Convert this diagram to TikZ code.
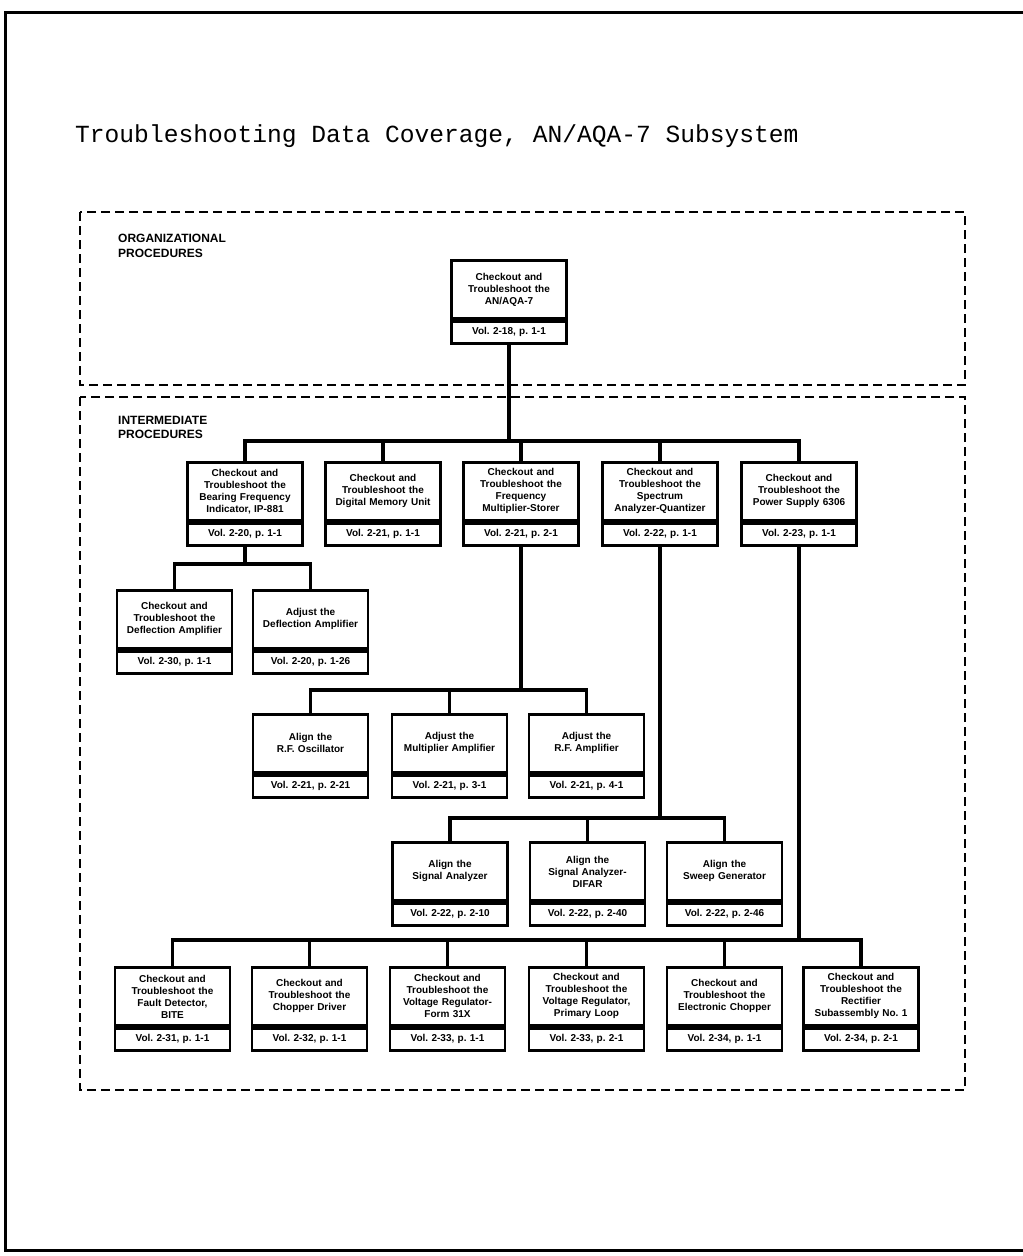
\documentclass[tikz,border=0pt]{standalone}
\usepackage{fontspec}
\setsansfont{Liberation Sans}
\setmonofont{Liberation Mono}
\usetikzlibrary{positioning}
\newcommand{\BoxW}{115pt}
\tikzset{Proc/.style={
    draw=black, line width=2.8pt,
    inner sep=0pt,
    text width=110pt,
    minimum width=\BoxW,
    minimum height=58pt,
    align=center,
    font=\fontsize{10}{12}\selectfont\sffamily\bfseries\frenchspacing,
    },
  Vol/.style={Proc, minimum height=22pt},
}

\begin{document}
\begin{tikzpicture}[x=1pt, y=-1pt,
    Link/.style={line width=3.2pt},
    Frame/.style={line width=1.8pt, dash pattern=on 9pt off 5pt},
    Label/.style={anchor=north west, inner sep=0pt, align=left,
      font=\fontsize{12}{14.5}\selectfont\sffamily\bfseries},
]
\useasboundingbox (0,0) rectangle (1023,1256);
% page frame
\draw[line width=3pt] (1023,12) -- (5,12) -- (5,1250) -- (1023,1250);
\node[anchor=base west, inner sep=0pt, font=\fontsize{24.6}{28}\selectfont\ttfamily] (title) at (75,142)
  {Troubleshooting Data Coverage, AN/AQA-7 Subsystem};

% dashed areas
\draw[Frame] (80,212) rectangle (965,385);
\draw[Frame] (80,397) rectangle (965,1090);
\node[Label] (org) at (118,234) {ORGANIZATIONAL\\PROCEDURES};
\node[Label] (int) at (118,416) {INTERMEDIATE\\PROCEDURES};

% organizational
\node[Proc, anchor=north] (top) at (509,259) {Checkout and\\Troubleshoot the\\AN/AQA-7};
\node[Vol, below=0pt of top] (top-v) {Vol. 2-18, p. 1-1};

% row 1
\pgfmathsetmacro{\row}{461}
\node[Proc, anchor=north] (a) at (245,\row) {Checkout and\\Troubleshoot the\\Bearing Frequency\\Indicator, IP-881};
\node[Vol, below=0pt of a] (a-v) {Vol. 2-20, p. 1-1};
\node[Proc, anchor=north] (b) at (383,\row) {Checkout and\\Troubleshoot the\\Digital Memory Unit};
\node[Vol, below=0pt of b] (b-v) {Vol. 2-21, p. 1-1};
\node[Proc, anchor=north] (c) at (521,\row) {Checkout and\\Troubleshoot the\\Frequency\\Multiplier-Storer};
\node[Vol, below=0pt of c] (c-v) {Vol. 2-21, p. 2-1};
\node[Proc, anchor=north] (d) at (660,\row) {Checkout and\\Troubleshoot the\\Spectrum\\Analyzer-Quantizer};
\node[Vol, below=0pt of d] (d-v) {Vol. 2-22, p. 1-1};
\node[Proc, anchor=north] (e) at (799,\row) {Checkout and\\Troubleshoot the\\Power Supply 6306};
\node[Vol, below=0pt of e] (e-v) {Vol. 2-23, p. 1-1};

% row 2
\pgfmathsetmacro{\row}{589}
\node[Proc, anchor=north] (f) at (174.5,\row) {Checkout and\\Troubleshoot the\\Deflection Amplifier};
\node[Vol, below=0pt of f] (f-v) {Vol. 2-30, p. 1-1};
\node[Proc, anchor=north] (g) at (310.5,\row) {Adjust the\\Deflection Amplifier};
\node[Vol, below=0pt of g] (g-v) {Vol. 2-20, p. 1-26};

% row 3
\pgfmathsetmacro{\row}{713}
\node[Proc, anchor=north] (h) at (310.5,\row) {Align the\\R.F. Oscillator};
\node[Vol, below=0pt of h] (h-v) {Vol. 2-21, p. 2-21};
\node[Proc, anchor=north] (i) at (449.5,\row) {Adjust the\\Multiplier Amplifier};
\node[Vol, below=0pt of i] (i-v) {Vol. 2-21, p. 3-1};
\node[Proc, anchor=north] (j) at (586.5,\row) {Adjust the\\R.F. Amplifier};
\node[Vol, below=0pt of j] (j-v) {Vol. 2-21, p. 4-1};

% row 4
\pgfmathsetmacro{\row}{841}
\node[Proc, anchor=north] (k) at (450,\row) {Align the\\Signal Analyzer};
\node[Vol, below=0pt of k] (k-v) {Vol. 2-22, p. 2-10};
\node[Proc, anchor=north] (l) at (587.5,\row) {Align the\\Signal Analyzer-\\DIFAR};
\node[Vol, below=0pt of l] (l-v) {Vol. 2-22, p. 2-40};
\node[Proc, anchor=north] (m) at (724.5,\row) {Align the\\Sweep Generator};
\node[Vol, below=0pt of m] (m-v) {Vol. 2-22, p. 2-46};

% row 5
\pgfmathsetmacro{\row}{966}
\node[Proc, anchor=north] (n) at (172.5,\row) {Checkout and\\Troubleshoot the\\Fault Detector,\\BITE};
\node[Vol, below=0pt of n] (n-v) {Vol. 2-31, p. 1-1};
\node[Proc, anchor=north] (o) at (309.5,\row) {Checkout and\\Troubleshoot the\\Chopper Driver};
\node[Vol, below=0pt of o] (o-v) {Vol. 2-32, p. 1-1};
\node[Proc, anchor=north] (p) at (447.5,\row) {Checkout and\\Troubleshoot the\\Voltage Regulator-\\Form 31X};
\node[Vol, below=0pt of p] (p-v) {Vol. 2-33, p. 1-1};
\node[Proc, anchor=north] (q) at (586.5,\row) {Checkout and\\Troubleshoot the\\Voltage Regulator,\\Primary Loop};
\node[Vol, below=0pt of q] (q-v) {Vol. 2-33, p. 2-1};
\node[Proc, anchor=north] (r) at (724.5,\row) {Checkout and\\Troubleshoot the\\Electronic Chopper};
\node[Vol, below=0pt of r] (r-v) {Vol. 2-34, p. 1-1};
\node[Proc, anchor=north] (s) at (861,\row) {Checkout and\\Troubleshoot the\\Rectifier\\Subassembly No. 1};
\node[Vol, below=0pt of s] (s-v) {Vol. 2-34, p. 2-1};

% bus levels
\coordinate (bus1) at (0,441);
\coordinate (bus2) at (0,564);
\coordinate (bus3) at (0,690);
\coordinate (bus4) at (0,818);
\coordinate (bus5) at (0,940);

% connectors
\draw[Link] (top-v.south) -- (top-v.south |- bus1);
\draw[Link] (a.north) -- (a.north |- bus1) -- (e.north |- bus1) -- (e.north);
\foreach \n in {b,c,d} \draw[Link] (\n.north) -- (\n.north |- bus1);

\draw[Link] (a-v.south) -- (a-v.south |- bus2);
\draw[Link] (f.north) -- (f.north |- bus2) -- (g.north |- bus2) -- (g.north);

\draw[Link] (c-v.south) -- (c-v.south |- bus3);
\draw[Link] (h.north) -- (h.north |- bus3) -- (j.north |- bus3) -- (j.north);
\draw[Link] (i.north) -- (i.north |- bus3);

\draw[Link] (d-v.south) -- (d-v.south |- bus4);
\draw[Link] (k.north) -- (k.north |- bus4) -- (m.north |- bus4) -- (m.north);
\draw[Link] (l.north) -- (l.north |- bus4);

\draw[Link] (e-v.south) -- (e-v.south |- bus5);
\draw[Link] (n.north) -- (n.north |- bus5) -- (s.north |- bus5) -- (s.north);
\foreach \n in {o,p,q,r} \draw[Link] (\n.north) -- (\n.north |- bus5);
\end{tikzpicture}
\end{document}
